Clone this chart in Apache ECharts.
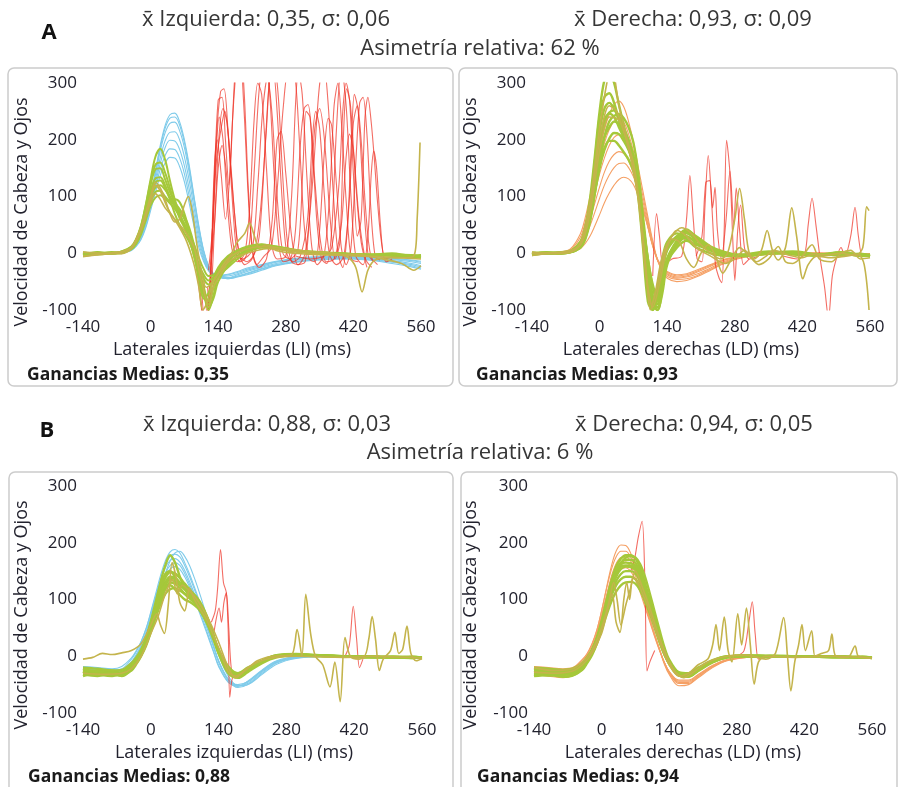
<!DOCTYPE html>
<html>
<head>
<meta charset="utf-8">
<script src="https://cdn.jsdelivr.net/npm/echarts@6/dist/echarts.min.js"></script>
<style>
  html, body { margin: 0; padding: 0; background: #fff; }
  #chart { width: 899px; height: 787px; }
</style>
</head>
<body>
<div id="chart"></div>
<script>
// Sample times (ms) shared by the smooth head / eye velocity traces
const TIME = [-140,-110,-80,-60,-40,-30,-20,-10,0,10,20,30,40,50,60,70,80,90,100,110,120,130,140,160,180,200,230,260,300,350,400,450,500,540,560];

const xTicks = [-140, 0, 140, 280, 420, 560];
const yTicks = [-100, 0, 100, 200, 300];

// ---------- A: left impulses (LI) ----------
const headA_L = [
  [0,1,0,2,8,18,35,62,100,145,190,225,244,247,232,200,155,100,48,5,-22,-36,-42,-45,-42,-38,-30,-22,-16,-12,-10,-12,-18,-24,-28],
  [0,0,1,2,8,17,34,60,98,142,186,220,238,240,226,195,150,97,45,3,-23,-36,-42,-45,-41,-36,-28,-21,-15,-11,-9,-11,-16,-22,-26],
  [0,0,1,2,7,16,32,58,95,138,180,212,229,231,216,186,142,92,42,2,-24,-37,-42,-44,-40,-35,-27,-20,-14,-10,-8,-10,-15,-20,-24],
  [0,1,0,1,6,15,30,55,90,130,168,198,213,214,200,170,128,80,34,-4,-26,-38,-42,-43,-38,-32,-25,-18,-12,-8,-7,-9,-13,-18,-22],
  [0,0,1,2,6,14,28,52,85,123,158,186,199,198,183,154,113,68,26,-8,-28,-38,-41,-40,-36,-30,-23,-16,-11,-8,-6,-8,-11,-15,-18],
  [0,0,0,1,5,13,26,48,80,115,148,172,184,183,168,140,100,57,18,-12,-30,-38,-40,-38,-34,-28,-21,-15,-10,-7,-6,-7,-10,-13,-16],
  [0,1,0,1,5,12,24,45,75,107,137,159,169,168,153,126,88,47,10,-15,-31,-38,-39,-37,-32,-26,-20,-14,-9,-6,-5,-6,-9,-12,-14]
];
const eyeA_L = [
  [-3,2,-1,3,12,25,48,85,130,170,184,165,128,95,70,50,25,-5,-45,-80,-70,-45,-25,-5,5,8,12,10,5,2,-2,-4,-2,-5,-6],
  [-2,1,0,2,10,22,45,80,120,148,150,130,108,90,78,65,45,15,-25,-60,-85,-60,-35,-12,2,10,14,12,6,0,-3,-2,-5,-6,-8],
  [2,-1,1,0,9,20,42,75,110,132,134,120,100,85,75,60,38,8,-30,-70,-100,-75,-40,-15,0,8,15,12,5,2,0,-3,0,-4,-3],
  [-1,0,2,1,8,18,38,68,98,116,120,112,98,82,66,48,25,-5,-40,-75,-90,-60,-30,-8,5,12,16,10,4,1,-2,-2,-3,-5,-4],
  [1,-2,0,2,8,18,36,62,90,108,110,100,92,95,90,70,40,10,-20,-45,-55,-50,-40,-25,-10,2,10,8,3,0,-1,-3,-2,-3,-6],
  [0,1,-1,3,10,21,40,72,105,125,128,115,95,70,50,35,20,0,-20,-38,-48,-42,-35,-20,-5,5,12,10,4,0,-2,-4,-3,-6,-7],
  [-2,0,1,2,11,24,47,84,125,156,160,142,115,85,62,45,25,2,-30,-65,-95,-80,-50,-22,-5,6,12,10,5,1,-1,-3,-4,-5,-6],
  [1,0,-1,1,7,16,33,58,84,98,102,96,88,78,66,52,35,15,-8,-28,-40,-38,-30,-18,-6,4,10,9,4,1,-1,-2,-2,-4,-5]
];
const noisyA_L = [
  [[-140,-5],[-100,-2],[-60,2],[-40,10],[-20,45],[0,100],[10,125],[20,115],[30,95],[40,70],[50,55],[60,60],[70,85],[78,100],[86,75],[95,20],[105,-30],[115,-60],[125,-55],[140,-35],[160,-10],[190,5],[230,12],[280,8],[330,3],[380,0],[410,-8],[425,-25],[438,-68],[450,-30],[465,-12],[500,-8],[560,-10]],
  [[-140,2],[-100,0],[-60,-1],[-40,8],[-20,40],[0,95],[10,120],[20,110],[35,80],[50,60],[70,40],[90,10],[100,-30],[110,-65],[120,-95],[130,-60],[150,-30],[165,-5],[180,20],[195,35],[205,53],[215,30],[225,10],[240,15],[260,5],[300,0],[360,-3],[420,-2],[480,-10],[520,-18],[545,-30],[560,-22]],
  [[-140,-6],[-110,-2],[-80,1],[-60,3],[-40,10],[-20,42],[0,90],[10,105],[20,95],[30,80],[45,65],[60,45],[75,20],[90,-20],[100,-60],[108,-100],[118,-85],[130,-50],[150,-25],[170,-10],[200,0],[240,8],[280,5],[330,0],[400,-4],[470,-6],[520,-8],[545,-5],[552,60],[558,195]]
];
const saccA_L = [
  [[95,-20],[105,-95],[112,-125],[120,-80],[128,40],[136,200],[145,285],[152,290],[160,220],[168,110],[176,20],[184,-15],[195,-10],[205,20],[215,150],[225,290],[235,340],[245,300],[255,150],[265,20],[275,-15],[290,-10],[300,40],[310,190],[318,255],[326,262],[334,200],[344,60],[354,-10],[365,-18],[375,40],[385,220],[395,330],[405,260],[415,100],[425,-5],[440,-20],[450,30],[457,140],[462,180],[468,150],[476,50],[485,-10],[495,-8]],
  [[100,-30],[108,-110],[116,-120],[124,-40],[132,130],[140,270],[148,275],[155,200],[162,120],[170,240],[178,330],[186,360],[194,280],[202,120],[210,10],[220,-20],[235,-5],[250,10],[262,110],[275,260],[287,330],[298,320],[308,200],[318,50],[328,-10],[340,-15],[350,40],[360,180],[368,238],[375,225],[385,120],[395,10],[405,-20],[415,10],[425,160],[433,265],[440,275],[448,210],[456,80],[465,-5],[475,-12]],
  [[110,-40],[118,-110],[126,-60],[134,80],[142,210],[150,255],[158,230],[166,150],[175,60],[185,-5],[200,-15],[215,0],[228,80],[240,220],[250,330],[262,300],[272,160],[282,30],[292,-15],[305,-20],[320,0],[335,120],[348,280],[358,340],[368,260],[378,110],[388,0],[398,-25],[408,50],[416,200],[422,280],[430,250],[440,110],[450,0],[462,-15]],
  [[118,-60],[122,-100],[126,0],[132,150],[138,200],[146,140],[155,60],[165,150],[175,320],[184,360],[193,260],[203,90],[213,-5],[225,-25],[240,-10],[252,60],[262,200],[270,215],[280,140],[292,30],[305,-20],[320,-15],[330,80],[340,220],[350,255],[360,200],[372,60],[382,-10],[392,20],[400,220],[406,290],[414,260],[425,120],[436,20],[448,-25]],
  [[125,-20],[133,60],[140,150],[148,190],[156,150],[165,60],[175,0],[190,-10],[210,5],[222,120],[232,250],[242,310],[252,240],[262,100],[274,0],[288,-10],[305,5],[316,160],[322,250],[330,240],[340,130],[352,20],[364,-15],[380,-10],[395,50],[405,170],[412,210],[420,180],[432,60],[445,-10],[458,-25]],
  [[300,-5],[330,-10],[360,-5],[375,10],[390,120],[398,250],[405,300],[412,270],[420,140],[428,30],[436,60],[444,240],[450,275],[457,230],[463,170],[470,90],[478,20],[488,-15],[500,-10]],
  [[105,-50],[112,-110],[120,-100],[128,20],[136,180],[142,240],[150,200],[158,100],[168,10],[180,-15],[195,0],[205,80],[214,230],[222,300],[230,280],[240,150],[250,20],[262,-10],[280,-5],[292,100],[300,260],[306,320],[314,280],[324,130],[334,10],[345,-20],[360,0],[372,120],[380,260],[388,300],[396,220],[406,80],[416,-10],[430,-15]],
  [[120,-30],[128,40],[136,160],[146,220],[154,250],[162,200],[172,90],[182,5],[195,-20],[210,-10],[225,30],[238,200],[246,300],[254,320],[262,250],[272,100],[282,0],[295,-15],[310,-5],[325,60],[335,200],[342,250],[350,220],[360,100],[370,0],[385,-20],[400,-5],[412,100],[420,230],[428,260],[436,200],[446,70],[456,-5],[470,-20]]
];

// ---------- A: right impulses (LD) ----------
const headA_R = [
  [0,0,2,8,34,62,100,142,182,218,245,262,268,258,232,196,152,108,64,22,-12,-32,-44,-50,-48,-42,-30,-17,-7,-2,0,-1,-1,-2,-2],
  [0,1,1,6,28,54,88,126,162,194,218,233,238,231,210,180,140,99,58,18,-12,-30,-41,-46,-45,-40,-28,-16,-6,-2,0,-1,0,-2,-2],
  [0,0,2,5,22,45,74,106,140,168,190,204,209,204,187,161,127,90,52,15,-12,-28,-38,-44,-42,-37,-26,-14,-5,-1,0,0,-1,-1,-2],
  [1,0,1,4,18,36,60,88,117,143,162,174,179,176,163,141,112,80,46,12,-13,-28,-36,-42,-40,-34,-23,-12,-4,-1,0,1,0,-1,-1],
  [0,0,1,3,13,28,48,72,97,120,138,151,158,159,151,135,109,80,48,14,-12,-26,-34,-40,-38,-32,-21,-11,-4,-1,0,0,-1,-1,-2],
  [0,0,1,2,8,17,30,48,68,89,106,120,130,134,131,121,101,76,46,14,-10,-24,-32,-38,-36,-30,-20,-10,-4,-1,0,0,0,-1,-1]
];
const eyeA_R = [
  [-3,0,1,4,20,45,95,170,250,305,320,300,262,225,190,160,100,10,-85,-100,-60,-10,20,35,25,10,0,-5,-2,3,0,-4,2,-3,-5],
  [-2,1,0,3,18,40,85,150,215,255,265,255,235,212,192,165,112,35,-50,-95,-70,-25,10,30,38,25,10,0,-3,2,-2,-4,0,-5,-3],
  [1,-1,2,3,15,35,75,135,195,235,248,252,242,222,200,172,122,45,-35,-90,-100,-60,-10,20,40,30,12,2,-5,0,3,-2,-3,-2,-4],
  [0,0,1,2,12,30,65,118,170,205,222,232,228,212,192,165,118,50,-20,-75,-90,-55,-15,15,28,22,8,-2,-4,0,1,-3,-1,-4,-3],
  [-1,1,0,2,10,26,58,105,150,182,202,212,210,198,182,158,112,52,-10,-60,-85,-50,-10,18,30,18,5,-3,-5,2,0,-2,-3,-1,-5],
  [0,2,-1,3,16,38,82,160,240,275,282,265,235,208,185,155,108,32,-55,-100,-80,-35,5,28,42,28,10,-2,-4,1,-1,-3,2,-3,-4],
  [1,0,1,3,12,28,60,110,155,185,198,198,190,178,165,145,105,48,-10,-55,-75,-45,-15,10,22,15,5,-2,-3,1,-1,-2,-3,-2,-3],
  [0,-1,1,2,10,24,55,105,160,205,232,242,245,238,222,195,142,65,-15,-80,-100,-70,-20,15,35,25,10,0,-4,-1,2,-3,-2,-3,-5],
  [-2,0,1,2,14,34,72,128,188,228,246,240,222,204,185,160,115,48,-30,-85,-95,-58,-12,22,36,24,8,-1,-4,2,0,-2,-1,-3,-4]
];
const noisyA_R = [
  [[-140,-4],[-100,0],[-60,3],[-40,18],[-20,90],[0,220],[15,300],[25,330],[40,260],[60,190],[80,100],[95,-20],[105,-100],[115,-70],[130,-5],[150,30],[170,45],[190,35],[210,15],[230,0],[250,-10],[265,0],[280,60],[290,114],[300,60],[310,0],[325,-15],[345,-5],[360,5],[380,0],[400,-5],[420,-8],[440,-2],[470,-3],[500,0],[530,-4],[545,10],[553,82],[558,75]],
  [[-140,2],[-100,-1],[-60,2],[-40,15],[-20,80],[0,200],[20,260],[35,250],[50,215],[70,160],[85,70],[100,-60],[110,-95],[125,-50],[140,10],[160,40],[180,30],[200,10],[230,-5],[260,-18],[280,-10],[300,5],[320,-10],[335,5],[347,40],[358,5],[370,-12],[385,10],[398,80],[408,30],[421,-45],[432,-20],[450,-5],[480,-8],[510,-5],[535,-2],[548,-20],[558,-100]],
  [[-140,0],[-80,2],[-40,14],[-20,70],[0,180],[20,240],[40,235],[60,185],[80,95],[95,-30],[108,-90],[120,-55],[135,0],[150,25],[165,20],[180,-10],[195,-25],[210,0],[225,15],[240,-5],[255,-35],[270,-15],[290,10],[310,-5],[330,-20],[350,-10],[370,12],[385,-15],[400,-18],[420,-5],[440,15],[455,-10],[480,-15],[500,0],[520,5],[540,-10],[560,-8]]
];
const saccA_R = [
  [[110,-40],[118,70],[124,30],[132,-20],[150,-10],[170,-5],[180,60],[187,137],[194,60],[202,-10],[212,-15],[218,80],[225,172],[232,90],[240,-20],[248,-45],[253,-52],[258,40],[263,199],[270,140],[276,20],[280,-48],[286,40],[292,85],[300,10],[310,-10],[330,-5]],
  [[200,-5],[212,30],[220,125],[228,128],[234,80],[239,116],[244,40],[252,-10],[262,60],[270,145],[278,50],[283,115],[290,40],[298,-20],[310,-10]],
  [[380,-5],[410,-10],[425,0],[432,50],[440,97],[448,50],[456,-5],[466,-60],[474,-115],[482,-40],[492,-5],[500,10],[508,-5],[520,30],[529,81],[536,30],[545,-5],[560,-3]]
];

// ---------- B: left impulses (LI) ----------
const headB_L = [
  [-20,-22,-24,-22,-5,8,25,48,78,110,142,168,184,188,182,165,145,122,98,72,45,18,-8,-42,-55,-50,-30,-12,-3,0,-1,-1,-2,-3,-4],
  [-25,-27,-28,-26,-10,3,20,42,72,104,135,160,176,180,175,160,140,118,95,70,44,17,-8,-40,-52,-48,-28,-11,-2,0,-1,-2,-2,-3,-3],
  [-18,-20,-22,-18,-3,10,26,48,76,106,134,156,169,172,166,151,132,110,88,64,40,15,-10,-42,-50,-45,-26,-10,-2,0,0,-1,-2,-2,-3],
  [-28,-30,-30,-28,-14,-2,14,35,63,94,122,146,160,165,160,146,127,106,83,58,33,8,-16,-45,-53,-46,-25,-9,-1,0,-1,-1,-2,-3,-3],
  [-22,-24,-26,-24,-10,2,18,38,65,93,120,141,154,158,153,140,122,100,78,54,30,6,-18,-46,-52,-44,-24,-8,-1,0,-1,-2,-2,-2,-4],
  [-20,-22,-25,-24,-12,-2,12,32,58,88,118,146,168,182,185,176,160,138,113,86,58,30,2,-35,-52,-50,-32,-14,-4,-1,0,-1,-2,-3,-3]
];
const eyeB_L = [
  [-22,-28,-25,-30,-15,-5,10,30,60,95,130,160,178,165,140,120,105,95,85,70,52,30,10,-20,-30,-20,-8,0,3,1,0,-2,-1,-3,-2],
  [-30,-25,-32,-28,-18,-8,8,28,55,85,112,130,140,138,130,122,115,108,98,82,62,35,8,-28,-35,-25,-10,0,2,2,-1,0,-2,-1,-3],
  [-25,-30,-28,-32,-20,-8,5,22,48,78,105,125,135,132,125,118,112,105,95,80,60,35,10,-25,-32,-22,-8,2,4,1,0,-1,-2,-2,-2],
  [-32,-35,-30,-35,-22,-12,2,20,45,72,98,118,130,128,120,110,102,95,88,75,55,32,8,-22,-34,-24,-10,0,3,2,0,-1,-1,-2,-3],
  [-20,-22,-25,-24,-12,-2,12,32,60,92,125,145,150,140,128,118,110,100,90,75,55,30,5,-30,-38,-28,-12,-2,2,0,0,-2,-2,-1,-2],
  [-28,-32,-35,-30,-20,-10,4,24,50,80,108,122,125,118,108,100,96,90,82,68,50,28,6,-24,-32,-22,-8,2,3,1,-1,-1,-2,-2,-3],
  [-35,-30,-32,-34,-25,-14,0,18,42,68,92,110,118,120,116,110,105,98,90,78,58,35,12,-18,-30,-22,-8,1,3,2,0,-1,-2,-3,-2],
  [-24,-26,-30,-28,-16,-6,8,26,52,84,115,138,148,146,138,128,118,108,96,80,60,34,8,-26,-36,-26,-10,0,2,1,0,-2,-1,-2,-3],
  [-27,-33,-29,-31,-19,-9,6,25,52,82,110,128,138,136,128,120,112,104,94,78,58,33,9,-24,-33,-23,-9,1,2,1,0,-1,-2,-2,-2]
];
const noisyB_L = [
  [[-140,-5],[-120,-2],[-100,5],[-80,3],[-60,6],[-40,10],[-20,22],[0,55],[12,75],[20,55],[28,40],[36,90],[44,165],[52,140],[60,95],[70,80],[80,120],[90,100],[100,85],[115,65],[130,35],[145,5],[160,-28],[175,-35],[195,-25],[220,-8],[250,0],[290,2],[302,47],[312,0],[320,109],[330,40],[340,0],[355,-15],[370,-54],[380,-10],[391,-80],[401,33],[412,0],[430,-5],[450,0],[560,-3]],
  [[-140,-30],[-100,-32],[-60,-30],[-40,-22],[-20,0],[0,40],[15,70],[30,110],[45,135],[55,110],[65,125],[80,115],[95,100],[110,80],[125,55],[140,25],[160,-20],[175,-38],[200,-20],[240,-5],[300,0],[400,-2],[440,0],[450,30],[457,70],[464,30],[472,-25],[480,-5],[495,10],[504,42],[512,5],[520,12],[529,53],[537,5],[548,-8],[560,-4]]
];
const saccB_L = [
  [[125,60],[133,80],[138,120],[144,188],[150,130],[156,112],[160,40],[163,-72],[168,-40],[175,-30]],
  [[130,40],[136,70],[141,85],[146,60],[151,95],[156,112],[161,50],[166,-20],[172,-35]],
  [[400,-2],[410,20],[418,88],[425,30],[431,-20],[438,-5]]
];

// ---------- B: right impulses (LD) ----------
const headB_R = [
  [-25,-28,-30,-28,-10,2,20,45,80,120,158,185,196,195,182,160,130,98,65,38,12,-14,-32,-52,-50,-38,-20,-8,-2,0,0,-1,-1,-2,-2],
  [-20,-22,-25,-22,-6,5,22,46,80,118,152,175,185,185,175,155,127,96,66,38,12,-12,-30,-48,-48,-36,-19,-7,-2,0,0,-1,-2,-2,-3],
  [-30,-33,-35,-32,-15,-3,15,38,70,106,140,163,174,175,168,150,124,95,66,38,12,-11,-28,-46,-46,-35,-18,-7,-1,0,-1,-1,-2,-2,-2],
  [-18,-20,-22,-20,-6,4,20,42,72,105,135,155,165,166,158,142,118,90,63,36,11,-11,-27,-44,-44,-33,-17,-6,-1,0,0,-1,-1,-2,-3],
  [-32,-35,-38,-34,-18,-6,10,32,60,92,122,143,153,156,150,135,112,86,60,34,10,-11,-27,-42,-42,-32,-16,-6,-1,0,-1,-1,-2,-2,-3]
];
const eyeB_R = [
  [-25,-28,-30,-32,-18,-6,10,32,62,98,132,158,172,178,178,172,155,128,98,68,38,12,-8,-32,-35,-25,-10,-2,0,1,0,-1,-1,-2,-2],
  [-30,-32,-28,-30,-20,-8,6,28,58,92,125,150,165,170,170,165,148,122,92,62,34,10,-10,-30,-33,-22,-8,0,1,0,0,-1,-2,-1,-3],
  [-22,-25,-26,-24,-12,-2,12,32,60,92,122,145,158,160,160,155,140,115,88,58,30,6,-12,-33,-34,-24,-9,-1,1,0,0,-1,-1,-2,-2],
  [-35,-33,-36,-34,-24,-12,2,22,50,80,110,132,145,150,150,146,132,110,84,56,28,5,-14,-34,-36,-25,-10,-2,0,0,-1,-1,-2,-2,-3],
  [-28,-30,-32,-30,-18,-8,6,26,52,80,106,125,136,140,140,136,123,102,78,52,26,4,-12,-30,-32,-22,-8,-1,1,0,0,-1,-1,-1,-2],
  [-20,-22,-24,-22,-12,-2,10,28,55,85,118,145,163,174,176,174,162,140,110,78,46,16,-6,-30,-36,-26,-11,-2,0,1,0,0,-1,-2,-2],
  [-32,-34,-30,-33,-22,-10,4,22,46,72,96,114,125,130,131,128,116,97,75,50,25,3,-12,-28,-30,-20,-7,0,1,0,0,-1,-1,-2,-2],
  [-26,-28,-28,-26,-14,-4,10,30,58,90,122,148,162,165,164,160,146,122,94,64,34,8,-10,-31,-34,-24,-9,-1,1,0,0,-1,-2,-2,-3],
  [-29,-31,-33,-28,-17,-6,8,29,56,86,116,140,154,158,157,152,138,116,90,60,32,7,-11,-32,-35,-24,-9,-1,1,0,0,-1,-1,-2,-2]
];
const noisyB_R = [
  [[-140,-28],[-100,-30],[-60,-26],[-40,-15],[-20,5],[0,40],[12,80],[22,110],[30,60],[38,42],[46,100],[52,130],[58,100],[65,140],[75,130],[85,110],[95,90],[110,50],[125,15],[140,-15],[160,-35],[180,-30],[200,-15],[220,-5],[230,20],[237,56],[244,10],[254,69],[262,10],[270,-10],[282,75],[290,20],[300,85],[308,20],[316,-49],[325,-10],[340,0],[400,-2],[480,0],[560,-3]],
  [[-140,-20],[-100,-25],[-60,-22],[-40,-10],[-20,10],[0,50],[15,95],[25,130],[32,100],[40,55],[50,90],[60,120],[70,150],[85,120],[100,85],[115,45],[130,10],[150,-25],[170,-38],[190,-28],[220,-10],[260,0],[300,2],[340,-5],[360,5],[377,68],[385,0],[392,-61],[400,-10],[408,20],[415,56],[422,10],[435,45],[442,0],[455,5],[470,10],[477,39],[485,0],[510,-2],[525,18],[532,0],[560,-3]]
];
const saccB_R = [
  [[60,150],[68,170],[76,210],[84,238],[90,120],[94,-26],[100,-10],[110,10]],
  [[280,0],[295,10],[305,60],[312,96],[318,40],[325,-5],[335,0]]
];

// ---------- Layout of the four panels ----------
const FONT = '"Open Sans", "Noto Sans", sans-serif';
const panels = [
  { grid: { left: 83, top: 83, width: 338, height: 227 }, head: headA_L, headColor: '#7fcbea', eye: eyeA_L, noisy: noisyA_L, sacc: saccA_L, eyeW: 2 },
  { grid: { left: 532, top: 83, width: 338, height: 227 }, head: headA_R, headColor: '#f5a065', eye: eyeA_R, noisy: noisyA_R, sacc: saccA_R, eyeW: 2.4 },
  { grid: { left: 83, top: 486, width: 339, height: 227 }, head: headB_L, headColor: '#7fcbea', eye: eyeB_L, noisy: noisyB_L, sacc: saccB_L, eyeW: 2.4 },
  { grid: { left: 534, top: 486, width: 338, height: 227 }, head: headB_R, headColor: '#f5a065', eye: eyeB_R, noisy: noisyB_R, sacc: saccB_R, eyeW: 2.4 }
];

const EYE = '#a5c83a';
const OLIVE = '#c4b44c';
const SACC = 'rgba(238,52,40,0.72)';
const TICK_COLOR = '#22222e';

const grids = [], xAxes = [], yAxes = [], series = [];
panels.forEach((p, i) => {
  grids.push(p.grid);
  xAxes.push({
    type: 'value', gridIndex: i, min: xTicks[0], max: xTicks[xTicks.length - 1], interval: 140,
    axisLine: { show: false }, axisTick: { show: false }, splitLine: { show: false },
    axisLabel: { fontSize: 17, color: TICK_COLOR, fontFamily: FONT, margin: 9 }
  });
  yAxes.push({
    type: 'value', gridIndex: i, min: yTicks[0], max: yTicks[yTicks.length - 1], interval: 100,
    axisLine: { show: false }, axisTick: { show: false }, splitLine: { show: false },
    axisLabel: { fontSize: 17, color: TICK_COLOR, fontFamily: FONT, margin: 6 }
  });
  const base = { type: 'line', xAxisIndex: i, yAxisIndex: i, showSymbol: false, silent: true, animation: false, clip: true };
  p.head.forEach(v => series.push(Object.assign({}, base, {
    data: TIME.map((t, k) => [t, v[k]]), smooth: 0.35,
    lineStyle: { color: p.headColor, width: 1.1 }, z: 2
  })));
  p.sacc.forEach(d => series.push(Object.assign({}, base, {
    data: d, smooth: 0.3, lineStyle: { color: SACC, width: 1.1 }, z: 3
  })));
  p.eye.forEach(v => series.push(Object.assign({}, base, {
    data: TIME.map((t, k) => [t, v[k]]), smooth: 0.35,
    lineStyle: { color: EYE, width: p.eyeW }, z: 4
  })));
  p.noisy.forEach(d => series.push(Object.assign({}, base, {
    data: d, smooth: 0.3, lineStyle: { color: OLIVE, width: 1.6 }, z: 4
  })));
});

function txt(x, y, text, size, opts) {
  opts = opts || {};
  return {
    type: 'text', x: x, y: y, z: 10, silent: true, rotation: opts.rot || 0,
    style: {
      text: text, fill: opts.fill || '#363636', fontSize: size, fontFamily: FONT,
      fontWeight: opts.bold ? 'bold' : 'normal', align: opts.align || 'center', verticalAlign: 'middle'
    }
  };
}
function box(x, y, w, h) {
  return {
    type: 'rect', z: -1, silent: true,
    shape: { x: x, y: y, width: w, height: h, r: 6 },
    style: { fill: '#ffffff', stroke: '#cccccc', lineWidth: 1.5 }
  };
}

const graphics = [
  box(8, 68, 445, 318), box(459, 68, 438, 318),
  box(9, 472, 444, 330), box(461, 472, 436, 330),
  txt(49, 33, 'A', 22, { bold: true, fill: '#111' }),
  txt(266, 20, 'x̄ Izquierda: 0,35, σ: 0,06', 22),
  txt(693, 20, 'x̄ Derecha: 0,93, σ: 0,09', 22),
  txt(480, 49, 'Asimetría relativa: 62 %', 22),
  txt(47, 431, 'B', 22, { bold: true, fill: '#111' }),
  txt(267, 425, 'x̄ Izquierda: 0,88, σ: 0,03', 22),
  txt(694, 425, 'x̄ Derecha: 0,94, σ: 0,05', 22),
  txt(480, 453, 'Asimetría relativa: 6 %', 22),
  txt(232, 350, 'Laterales izquierdas (LI) (ms)', 18, { fill: TICK_COLOR }),
  txt(681, 350, 'Laterales derechas (LD) (ms)', 18, { fill: TICK_COLOR }),
  txt(234, 753, 'Laterales izquierdas (LI) (ms)', 18, { fill: TICK_COLOR }),
  txt(683, 753, 'Laterales derechas (LD) (ms)', 18, { fill: TICK_COLOR }),
  txt(22, 212, 'Velocidad de Cabeza y Ojos', 18, { rot: Math.PI / 2, fill: TICK_COLOR }),
  txt(471, 212, 'Velocidad de Cabeza y Ojos', 18, { rot: Math.PI / 2, fill: TICK_COLOR }),
  txt(22, 615, 'Velocidad de Cabeza y Ojos', 18, { rot: Math.PI / 2, fill: TICK_COLOR }),
  txt(471, 615, 'Velocidad de Cabeza y Ojos', 18, { rot: Math.PI / 2, fill: TICK_COLOR }),
  txt(27, 375, 'Ganancias Medias: 0,35', 17.5, { bold: true, align: 'left', fill: '#1a1a1a' }),
  txt(476, 375, 'Ganancias Medias: 0,93', 17.5, { bold: true, align: 'left', fill: '#1a1a1a' }),
  txt(28, 777, 'Ganancias Medias: 0,88', 17.5, { bold: true, align: 'left', fill: '#1a1a1a' }),
  txt(477, 777, 'Ganancias Medias: 0,94', 17.5, { bold: true, align: 'left', fill: '#1a1a1a' })
];

const chart = echarts.init(document.getElementById('chart'), null, { renderer: 'canvas' });
chart.setOption({
  backgroundColor: '#ffffff',
  animation: false,
  grid: grids,
  xAxis: xAxes,
  yAxis: yAxes,
  series: series,
  graphic: graphics
});
</script>
</body>
</html>
